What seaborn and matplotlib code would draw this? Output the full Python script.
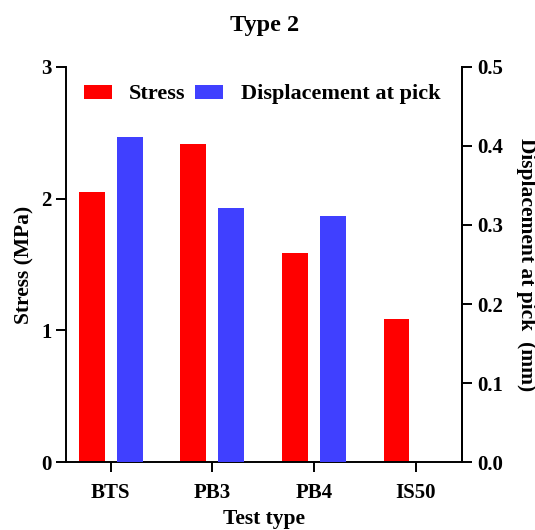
import numpy as np
import pandas as pd
import matplotlib
matplotlib.use("Agg")
import matplotlib.pyplot as plt
import seaborn as sns
from matplotlib.patches import Patch

categories = ["BTS", "PB3", "PB4", "IS50"]
stress = [2.05, 2.41, 1.59, 1.09]
displacement = [0.411, 0.321, 0.311, np.nan]
series = ["Stress", "Displacement at pick"]
colors = ["#FF0000", "#4040FF"]

sns.set_theme(style="ticks")
plt.rcParams["font.family"] = ["Liberation Serif", "DejaVu Serif"]
plt.rcParams["font.weight"] = "bold"
plt.rcParams["text.color"] = "black"
plt.rcParams["axes.labelcolor"] = "black"

df_s = pd.DataFrame({"test": categories, "value": stress, "series": series[0]})
df_d = pd.DataFrame({"test": categories, "value": displacement, "series": series[1]})

fig = plt.figure(figsize=(5.35, 5.30), dpi=100)
ax = fig.add_axes([0.1234, 0.1277, 0.7406, 0.7465])
ax2 = ax.twinx()

pal = dict(zip(series, colors))
common = dict(x="test", y="value", hue="series", hue_order=series, order=categories,
              palette=pal, width=0.75, gap=0.32, dodge=True, legend=False,
              saturation=1, linewidth=0, edgecolor="none")
sns.barplot(data=df_s, ax=ax, **common)
sns.barplot(data=df_d.dropna(), ax=ax2, **common)

ax.set_xlim(-0.44, 3.46)
ax.set_ylim(0, 3)
ax2.set_ylim(0, 0.5)
ax.set_yticks([0, 1, 2, 3])
ax2.set_yticks([0, 0.1, 0.2, 0.3, 0.4, 0.5])
ax2.set_yticklabels(["0.0", "0.1", "0.2", "0.3", "0.4", "0.5"])

for a in (ax, ax2):
    a.spines["top"].set_visible(False)
    for s in a.spines.values():
        s.set_linewidth(1.4)
        s.set_color("black")
    a.tick_params(axis="both", width=1.4, length=7, labelsize=15, colors="black")
    a.tick_params(axis="x", pad=8)
    for lab in a.get_xticklabels() + a.get_yticklabels():
        lab.set_fontweight("bold")
ax2.spines["left"].set_visible(False)
ax2.spines["bottom"].set_visible(False)

ax.set_xlabel("Test type", fontsize=15.5, fontweight="bold", labelpad=4, color="black")
ax.set_ylabel("Stress (MPa)", fontsize=15.5, fontweight="bold", labelpad=5, color="black")
ax2.set_ylabel("Displacement at pick  (mm)", fontsize=15.5, fontweight="bold",
               rotation=270, labelpad=24, color="black")
ax.set_title("Type 2", fontsize=17.5, fontweight="bold", pad=26, color="black")

handles = [Patch(facecolor=c, edgecolor="none") for c in colors]
leg = ax.legend(handles, series, loc="upper left", ncol=2, frameon=False,
                prop={"weight": "bold", "size": 16}, bbox_to_anchor=(0.0, 1.0),
                handlelength=1.26, handleheight=0.59, columnspacing=0.45,
                handletextpad=0.77, borderaxespad=0.4, labelcolor="black")

fig.savefig("out.png", dpi=100)
